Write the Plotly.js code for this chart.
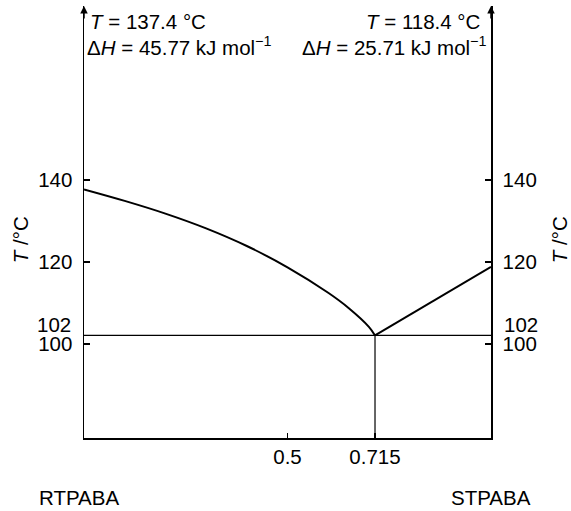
<!DOCTYPE html>
<html>
<head>
<meta charset="utf-8">
<script src="https://cdn.plot.ly/plotly-3.0.1.min.js"></script>
<style>html,body{margin:0;padding:0;background:#fff;}#chart{width:571px;height:511px;}</style>
</head>
<body>
<div id="chart"></div>
<script>
// Liquidus of RTPABA-rich side (mole fraction of STPABA, T in °C)
const leftX = [0, 0.1, 0.2, 0.3, 0.4, 0.5, 0.6, 0.65, 0.7, 0.715];
const leftT = [137.7, 134.9, 131.8, 128.2, 123.9, 118.7, 112.5, 108.8, 104.2, 102.1];
// Liquidus of STPABA-rich side
const rightX = [0.715, 0.857, 1.0];
const rightT = [102.1, 110.5, 118.8];
// Eutectic line and composition
const eutecticT = 102.1;
const eutecticX = 0.715;
const lineX = [0, 1];
// Ticks
const xTicks = [0.5, 0.715];
const xTickText = ['0.5', '0.715'];
const yTicks = [100, 120, 140];
const yTickText = ['100', '120', '140'];
const eutecticLabel = '102';
const yRange = [77.1, 182.4];
// Text
const leftLabels = ['<i>T</i> = 137.4 °C', 'Δ<i>H</i> = 45.77 kJ mol<sup>−1</sup>'];
const rightLabels = ['<i>T</i> = 118.4 °C', 'Δ<i>H</i> = 25.71 kJ mol<sup>−1</sup>'];
const endLabels = ['RTPABA', 'STPABA'];
const axisTitle = '<i>T</i> /°C';

const FONT = 'Liberation Sans, Arial, Helvetica, sans-serif';
const FS = 20.5;

const traces = [
  {x: leftX, y: leftT, mode: 'lines', line: {color: '#000', width: 2, shape: 'spline', smoothing: 1}, hoverinfo: 'skip', xaxis: 'x', yaxis: 'y'},
  {x: rightX, y: rightT, mode: 'lines', line: {color: '#000', width: 2}, hoverinfo: 'skip', xaxis: 'x', yaxis: 'y'},
  {x: lineX, y: [eutecticT, eutecticT], mode: 'lines', line: {color: '#000', width: 1.2}, hoverinfo: 'skip', xaxis: 'x', yaxis: 'y2'},
  {x: [eutecticX, eutecticX], y: [yRange[0], eutecticT], mode: 'lines', line: {color: '#000', width: 1.2}, hoverinfo: 'skip', xaxis: 'x', yaxis: 'y'}
];

const yCommon = {
  range: yRange, showgrid: false, zeroline: false, showline: true, linecolor: '#000', linewidth: 1.5,
  ticks: 'inside', ticklen: 6, tickwidth: 1.2, tickcolor: '#000',
  tickvals: yTicks, ticktext: yTickText, ticklabelstandoff: 6,
  tickfont: {family: FONT, size: FS, color: '#000'}
};

const txt = (o) => Object.assign({showarrow: false, font: {family: FONT, size: FS, color: '#000'}}, o);

const annotations = [
  {xref: 'paper', yref: 'paper', x: 0, y: 1, ax: 0, ay: 14, text: '', showarrow: true, arrowhead: 2, arrowsize: 1, arrowwidth: 1.5, arrowcolor: '#000'},
  {xref: 'paper', yref: 'paper', x: 1, y: 1, ax: 0, ay: 14, text: '', showarrow: true, arrowhead: 2, arrowsize: 1, arrowwidth: 1.5, arrowcolor: '#000'},
  txt({xref: 'paper', yref: 'paper', x: 0.01, y: 0.963, xanchor: 'left', yanchor: 'middle', text: leftLabels[0]}),
  txt({xref: 'paper', yref: 'paper', x: 0.002, y: 0.908, xanchor: 'left', yanchor: 'middle', text: leftLabels[1]}),
  txt({xref: 'paper', yref: 'paper', x: 0.98, y: 0.963, xanchor: 'right', yanchor: 'middle', text: rightLabels[0]}),
  txt({xref: 'paper', yref: 'paper', x: 0.993, y: 0.908, xanchor: 'right', yanchor: 'middle', text: rightLabels[1]}),
  txt({xref: 'paper', yref: 'y', x: 0, y: eutecticT, xanchor: 'right', yanchor: 'middle', xshift: -11, yshift: 11, text: eutecticLabel}),
  txt({xref: 'paper', yref: 'y', x: 1, y: eutecticT, xanchor: 'left', yanchor: 'middle', xshift: 11, yshift: 11, text: eutecticLabel}),
  txt({xref: 'paper', yref: 'paper', x: -0.013, y: -0.137, xanchor: 'center', yanchor: 'middle', text: endLabels[0]}),
  txt({xref: 'paper', yref: 'paper', x: 1, y: -0.137, xanchor: 'center', yanchor: 'middle', text: endLabels[1]}),
  txt({xref: 'paper', yref: 'paper', x: 0, y: 0.458, xshift: -64, xanchor: 'center', yanchor: 'middle', textangle: -90, text: axisTitle}),
  txt({xref: 'paper', yref: 'paper', x: 1, y: 0.458, xshift: 68, xanchor: 'center', yanchor: 'middle', textangle: -90, text: axisTitle})
];

const layout = {
  width: 571, height: 511,
  margin: {l: 84, r: 80, t: 6, b: 73},
  paper_bgcolor: '#fff', plot_bgcolor: '#fff',
  showlegend: false,
  xaxis: {
    range: [0, 1], showgrid: false, zeroline: false, showline: true, linecolor: '#000', linewidth: 1.5,
    ticks: 'inside', ticklen: 5, tickwidth: 1.2, tickcolor: '#000',
    tickvals: xTicks, ticktext: xTickText, ticklabelstandoff: 0,
    tickfont: {family: FONT, size: FS, color: '#000'}
  },
  yaxis: Object.assign({}, yCommon, {side: 'left'}),
  yaxis2: Object.assign({}, yCommon, {side: 'right', overlaying: 'y'}),
  annotations: annotations
};

Plotly.newPlot('chart', traces, layout, {staticPlot: true, displayModeBar: false});
</script>
</body>
</html>
